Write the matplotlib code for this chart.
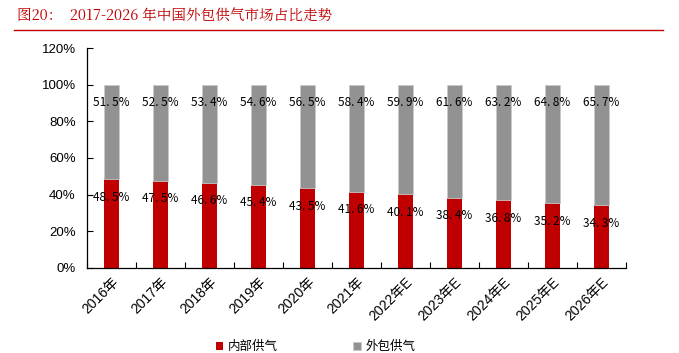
import matplotlib
matplotlib.use("Agg")
import matplotlib.pyplot as plt
import numpy as np
from matplotlib.ticker import FixedLocator, PercentFormatter

categories = ["2016年", "2017年", "2018年", "2019年", "2020年", "2021年",
              "2022年E", "2023年E", "2024年E", "2025年E", "2026年E"]
internal = [48.5, 47.5, 46.6, 45.4, 43.5, 41.6, 40.1, 38.4, 36.8, 35.2, 34.3]
outsourced = [51.5, 52.5, 53.4, 54.6, 56.5, 58.4, 59.9, 61.6, 63.2, 64.8, 65.7]
yticks = [0, 20, 40, 60, 80, 100, 120]

RED = "#C00000"
GREY = "#929292"

fig = plt.figure(figsize=(6.79, 3.53), dpi=100)
ax = fig.add_axes([0.128, 0.241, 0.794, 0.623])

x = np.arange(len(categories))
w = 0.31
ax.bar(x, internal, w, color=RED, label="内部供气", zorder=2)
ax.bar(x, outsourced, w, bottom=internal, color=GREY, label="外包供气",
       edgecolor="#c8c8c8", linewidth=0.6, zorder=2)

lab_font = dict(family=["Noto Sans CJK SC", "DejaVu Sans"], fontsize=8.5, color="black")
for xi, a, b in zip(x, internal, outsourced):
    ax.annotate(f"{a:.1f}%".replace(".", ". "), (xi, a), xytext=(0, -13),
                textcoords="offset points", ha="center", va="center", **lab_font, zorder=3)
    ax.annotate(f"{b:.1f}%".replace(".", ". "), (xi, a + b), xytext=(0, -13),
                textcoords="offset points", ha="center", va="center", **lab_font, zorder=3)

ax.set_xlim(-0.5, len(categories) - 0.5)
ax.set_ylim(0, 120)
ax.set_yticks(yticks)
ax.yaxis.set_major_formatter(PercentFormatter(decimals=0))
ax.set_xticks(x)
ax.set_xticklabels(categories, rotation=45, ha="right", rotation_mode="anchor",
                   family=["Liberation Sans", "Noto Sans CJK SC"], fontsize=10)
ax.xaxis.set_minor_locator(FixedLocator(np.arange(-0.5, len(categories), 1.0)))
ax.tick_params(axis="x", which="major", length=0, pad=5)
ax.tick_params(axis="x", which="minor", length=4, direction="in", width=0.8)
ax.tick_params(axis="y", length=4, direction="in", width=0.8, labelsize=9.5, pad=8)
for lbl in ax.get_yticklabels():
    lbl.set_family(["Liberation Sans", "DejaVu Sans"])
for s in ["top", "right"]:
    ax.spines[s].set_visible(False)
for s in ["left", "bottom"]:
    ax.spines[s].set_linewidth(0.9)

fig.text(0.025, 0.955, "图20：  2017-2026 年中国外包供气市场占比走势", color=RED,
         fontsize=10.5, family=["Noto Serif CJK SC", "Noto Sans CJK SC", "DejaVu Sans"],
         ha="left", va="center")
fig.add_artist(plt.Line2D([0.02, 0.977], [0.915, 0.915], color=RED, lw=1.0))

leg = fig.legend(loc="center", bbox_to_anchor=(0.465, 0.018), ncol=2, frameon=False,
                 prop={"family": ["Noto Sans CJK SC", "DejaVu Sans"], "size": 9},
                 handlelength=0.6, handleheight=0.6, columnspacing=6, handletextpad=0.4)

fig.savefig("out.png", dpi=100)
